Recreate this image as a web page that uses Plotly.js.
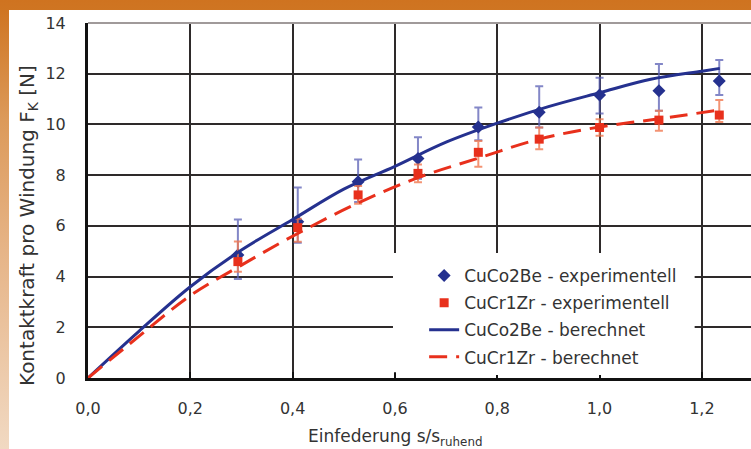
<!DOCTYPE html>
<html>
<head>
<meta charset="utf-8">
<script src="https://cdn.plot.ly/plotly-3.0.1.min.js"></script>
<style>
  html, body { margin: 0; padding: 0; }
  #frame { position: absolute; left: 0; top: 0; width: 751px; height: 449px;
           background: linear-gradient(to bottom, #cf7320 0px, #cf7522 10px, #dc9a5a 120px, #e6b487 250px, #f1d9c2 449px); }
  #chart { position: absolute; left: 9px; top: 10px; width: 742px; height: 439px; background: #fff; }
</style>
</head>
<body>
<div id="frame"></div>
<div id="chart"></div>
<script>
// Measured points (experimental)
const xExp = [0.293, 0.41, 0.528, 0.645, 0.763, 0.882, 1.0, 1.116, 1.234];
const cuCoExp = [4.85, 6.16, 7.74, 8.66, 9.9, 10.48, 11.16, 11.33, 11.71];
const cuCoErrPlus = [1.4, 1.35, 0.88, 0.83, 0.77, 1.03, 0.68, 1.05, 0.83];
const cuCoErrMinus = [0.95, 0.83, 0.8, 0.8, 0.52, 0.6, 0.73, 0.79, 0.55];
const cuCrExp = [4.59, 5.93, 7.22, 8.07, 8.9, 9.42, 9.88, 10.17, 10.37];
const cuCrErrPlus = [0.79, 0.35, 0.35, 0.35, 0.45, 0.46, 0.32, 0.37, 0.59];
const cuCrErrMinus = [0.4, 0.56, 0.35, 0.35, 0.57, 0.4, 0.33, 0.42, 0.27];

// Calculated curves
const xCoCalc = [0, 0.1, 0.2, 0.3, 0.4, 0.5, 0.6, 0.7, 0.8, 0.9, 1.0, 1.1, 1.2, 1.235];
const cuCoCalc = [0, 1.85, 3.6, 5.05, 6.25, 7.45, 8.35, 9.3, 10.05, 10.7, 11.25, 11.78, 12.1, 12.21];
const xCrCalc = [0, 0.1, 0.2, 0.3, 0.41, 0.528, 0.645, 0.763, 0.882, 1.0, 1.116, 1.234];
const cuCrCalc = [0, 1.65, 3.25, 4.45, 5.7, 6.9, 7.9, 8.67, 9.42, 9.9, 10.22, 10.57];

const xTicks = [0, 0.2, 0.4, 0.6, 0.8, 1.0, 1.2];
const yTicks = [0, 2, 4, 6, 8, 10, 12, 14];

const names = ['CuCo2Be - experimentell', 'CuCr1Zr - experimentell', 'CuCo2Be - berechnet', 'CuCr1Zr - berechnet'];
const xTitle = 'Einfederung s/s<sub>ruhend</sub>';
const yTitle = 'Kontaktkraft pro Windung F<sub>K</sub> [N]';

const blue = '#25318f', red = '#e8301c';

const traces = [
  { x: xExp, y: cuCoExp, name: names[0], legendgroup: 'g1', type: 'scatter', mode: 'markers',
    marker: { symbol: 'diamond', size: 10, color: blue },
    error_y: { type: 'data', symmetric: false, array: cuCoErrPlus, arrayminus: cuCoErrMinus,
               color: 'rgba(90,95,180,0.75)', thickness: 2, width: 4 } },
  { x: xExp, y: cuCrExp, name: names[1], legendgroup: 'g2', type: 'scatter', mode: 'markers',
    marker: { symbol: 'square', size: 9, color: red },
    error_y: { type: 'data', symmetric: false, array: cuCrErrPlus, arrayminus: cuCrErrMinus,
               color: 'rgba(240,120,80,0.8)', thickness: 2, width: 4 } },
  { x: xCoCalc, y: cuCoCalc, name: names[2], legendgroup: 'g3', type: 'scatter', mode: 'lines',
    line: { color: blue, width: 3, shape: 'spline' } },
  { x: xCrCalc, y: cuCrCalc, name: names[3], legendgroup: 'g4', type: 'scatter', mode: 'lines',
    line: { color: red, width: 3, dash: '18px,9px', shape: 'spline' } }
];

const font = 'DejaVu Sans, Verdana, sans-serif';
const layout = {
  width: 742, height: 439,
  margin: { l: 79, r: 0, t: 13, b: 71 },
  paper_bgcolor: '#ffffff', plot_bgcolor: '#ffffff',
  separators: ',.',
  font: { family: font, size: 16, color: '#333333' },
  showlegend: true,
  legend: { x: 0.507, y: 0.338, xanchor: 'left', yanchor: 'top', bgcolor: '#ffffff',
            borderwidth: 0, font: { family: font, size: 17, color: '#333333' },
            tracegroupgap: 2, traceorder: 'grouped' },
  shapes: [
    { type: 'rect', xref: 'paper', yref: 'paper', x0: 0.46, x1: 0.915, y0: 0.016, y1: 0.352,
      fillcolor: '#ffffff', line: { width: 0 }, layer: 'above' },
    { type: 'line', xref: 'paper', yref: 'paper', x0: 0, x1: 1, y0: 1, y1: 1,
      line: { color: '#a09a9a', width: 2 }, layer: 'above' }
  ],
  annotations: [
    { text: xTitle, xref: 'paper', yref: 'paper', x: 0.463, y: -0.169, xanchor: 'center', yanchor: 'middle',
      showarrow: false, font: { family: font, size: 17, color: '#333333' } },
    { text: yTitle, xref: 'paper', yref: 'paper', x: -0.0905, y: 0.431, xanchor: 'center', yanchor: 'middle',
      textangle: -90, showarrow: false, font: { family: font, size: 20, color: '#333333' } }
  ],
  xaxis: {
    range: [0, 1.296], tickvals: xTicks, tickformat: '.1f',
    showgrid: true, gridcolor: '#2e2a2a', gridwidth: 2,
    showline: true, linecolor: '#111111', linewidth: 3,
    zeroline: false, ticks: 'inside', ticklen: 6, tickwidth: 2, tickcolor: '#111111',
    ticklabelstandoff: 14,
    tickfont: { family: font, size: 16, color: '#333333' }
  },
  yaxis: {
    range: [0, 14], tickvals: yTicks,
    showgrid: true, gridcolor: '#2e2a2a', gridwidth: 2,
    showline: true, linecolor: '#111111', linewidth: 3,
    zeroline: false, ticks: '', ticklabelstandoff: 16,
    tickfont: { family: font, size: 16, color: '#333333' }
  }
};

Plotly.newPlot('chart', traces, layout, { displayModeBar: false, staticPlot: true });
</script>
</body>
</html>
